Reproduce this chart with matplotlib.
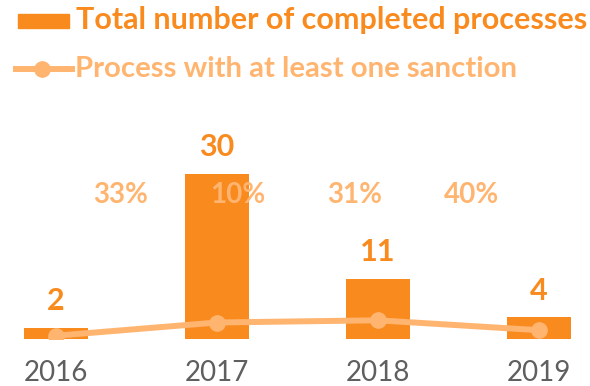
import matplotlib.pyplot as plt
import numpy as np
from matplotlib.lines import Line2D
from matplotlib.patches import Rectangle
from matplotlib.transforms import IdentityTransform

plt.rcParams["font.family"] = ["Lato", "DejaVu Sans"]

years = ["2016", "2017", "2018", "2019"]
completed = [2, 30, 11, 4]
with_sanction = [0.6, 3.0, 3.4, 1.6]
sanction_pct = ["33%", "10%", "31%", "40%"]

BAR = "#F98A1E"
LINE = "#FFB570"
GREY = "#5f5f5f"

W, H = 590, 386
fig = plt.figure(figsize=(W / 100, H / 100), dpi=100)
# axes span the full width; bottom edge sits on the bar baseline
ax = fig.add_axes([0, 47 / H, 1, 339 / H])
x = np.arange(len(years))

ax.bar(x, completed, width=0.4, color=BAR, zorder=2)
ax.plot(x, with_sanction, color=LINE, lw=4.3, marker="o", ms=11, zorder=3)

for xi, v in zip(x, completed):
    ax.annotate(str(v), (xi, v), xytext=(0, 9), textcoords="offset points",
                ha="center", va="bottom", fontsize=22, fontweight="bold", color=BAR)

# percentage labels spread in a row above the bars
pct_x = np.linspace(0.40, 2.58, len(sanction_pct))
for px, s in zip(pct_x, sanction_pct):
    ax.text(px, 26.2, s, ha="center", va="center", fontsize=20,
            fontweight="bold", color=LINE, zorder=4)

ax.set_xlim(-56 / 161, 3 + 51 / 161)
ax.set_ylim(0, 339 / 5.5)
ax.set_xticks(x)
ax.set_xticklabels(years, fontsize=20, color=GREY)
ax.tick_params(axis="x", length=0, pad=15)
ax.set_yticks([])
for sp in ax.spines.values():
    sp.set_visible(False)

# legend drawn by hand in pixel coordinates
px_tr = IdentityTransform()
fig.add_artist(Rectangle((18, 358), 51, 14, color=BAR, transform=px_tr))
fig.text(76, 357, "Total number of completed processes", transform=px_tr,
         fontsize=22, fontweight="bold", color=BAR, va="baseline")
fig.add_artist(Line2D([16, 72], [317, 317], color=LINE, lw=4.3, transform=px_tr))
fig.add_artist(Line2D([42], [317], color=LINE, marker="o", ms=11, transform=px_tr))
fig.text(75, 309, "Process with at least one sanction", transform=px_tr,
         fontsize=21.2, fontweight="bold", color=LINE, va="baseline")

fig.savefig("out.png", dpi=100)
